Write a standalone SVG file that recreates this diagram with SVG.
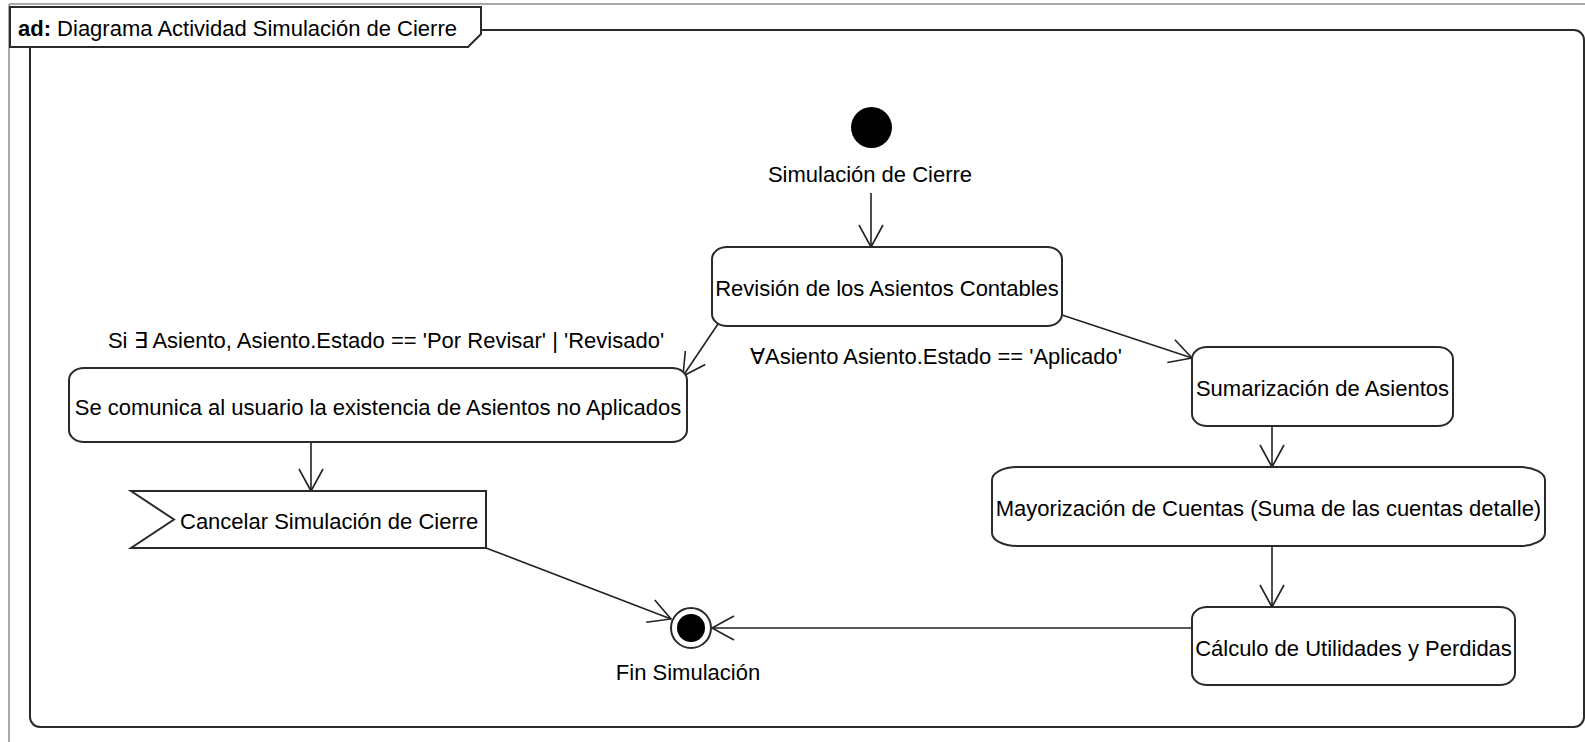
<svg xmlns="http://www.w3.org/2000/svg" width="1585" height="742" viewBox="0 0 1585 742">
<style>
text { font-family: "Liberation Sans", Arial, sans-serif; font-size: 22px; fill: #000; }
.c { text-anchor: middle; }
.box { fill: #fff; stroke: #2a2a2a; stroke-width: 2; }
.edge { fill: none; stroke: #222; stroke-width: 1.6; marker-end: url(#arr); }
.gray { stroke: #aaa; stroke-width: 2; }
</style>
<defs>
<marker id="arr" markerUnits="userSpaceOnUse" markerWidth="30" markerHeight="30" viewBox="0 0 30 26" refX="23" refY="13" orient="auto">
<path d="M1,1 L23,13 L1,25" fill="none" stroke="#222" stroke-width="1.6"/>
</marker>
</defs>
<rect x="0" y="0" width="1585" height="742" fill="#fff"/>
<g id="frame">
<line class="gray" x1="9" y1="4" x2="1585" y2="4"/>
<line class="gray" x1="9" y1="4" x2="9" y2="742"/>
<rect x="30" y="30" width="1554" height="697" rx="10" fill="none" stroke="#2a2a2a" stroke-width="2"/>
<path d="M10,7 H481 V34 L468,47 H10 Z" fill="#fff" stroke="#2a2a2a" stroke-width="2"/>
<text x="18" y="36"><tspan font-weight="bold">ad:</tspan> Diagrama Actividad Simulación de Cierre</text>
</g>
<g id="connectors">
<path class="edge" d="M871,193 L871,247"/>
<path class="edge" d="M720,321 L683,376"/>
<text class="c" x="386" y="348">Si ∃ Asiento, Asiento.Estado == 'Por Revisar' | 'Revisado'</text>
<path class="edge" d="M1062,315 L1192,358"/>
<text class="c" x="936" y="364">∀Asiento Asiento.Estado == 'Aplicado'</text>
<path class="edge" d="M311,442 L311,491"/>
<path class="edge" d="M486,548 L671,619"/>
<path class="edge" d="M1272,426 L1272,467"/>
<path class="edge" d="M1272,546 L1272,607"/>
<path class="edge" d="M1192,628 L712,628"/>
</g>
<g id="start">
<circle cx="871.5" cy="127.5" r="20.5" fill="#000"/>
<text class="c" x="870" y="182">Simulación de Cierre</text>
</g>
<g id="revision">
<rect class="box" x="712" y="247" width="350" height="79" rx="15" ry="12"/>
<text class="c" x="887" y="296">Revisión de los Asientos Contables</text>
</g>
<g id="comunica">
<rect class="box" x="69" y="368" width="618" height="74" rx="15" ry="12"/>
<text class="c" x="378" y="414.5">Se comunica al usuario la existencia de Asientos no Aplicados</text>
</g>
<g id="cancelar">
<polygon class="box" points="131,491 486,491 486,548 131,548 174,519.5"/>
<text x="180" y="529">Cancelar Simulación de Cierre</text>
</g>
<g id="sumarizacion">
<rect class="box" x="1192" y="347" width="261" height="79" rx="15" ry="12"/>
<text class="c" x="1322.5" y="396">Sumarización de Asientos</text>
</g>
<g id="mayorizacion">
<rect class="box" x="992" y="467" width="553" height="79" rx="25" ry="13"/>
<text class="c" x="1268.5" y="516">Mayorización de Cuentas (Suma de las cuentas detalle)</text>
</g>
<g id="calculo">
<rect class="box" x="1192" y="607" width="323" height="78" rx="15" ry="12"/>
<text class="c" x="1353.5" y="655.5">Cálculo de Utilidades y Perdidas</text>
</g>
<g id="fin">
<circle cx="691" cy="628" r="20" fill="#fff" stroke="#2a2a2a" stroke-width="2"/>
<circle cx="691" cy="628" r="14" fill="#000"/>
<text class="c" x="688" y="680">Fin Simulación</text>
</g>
</svg>
